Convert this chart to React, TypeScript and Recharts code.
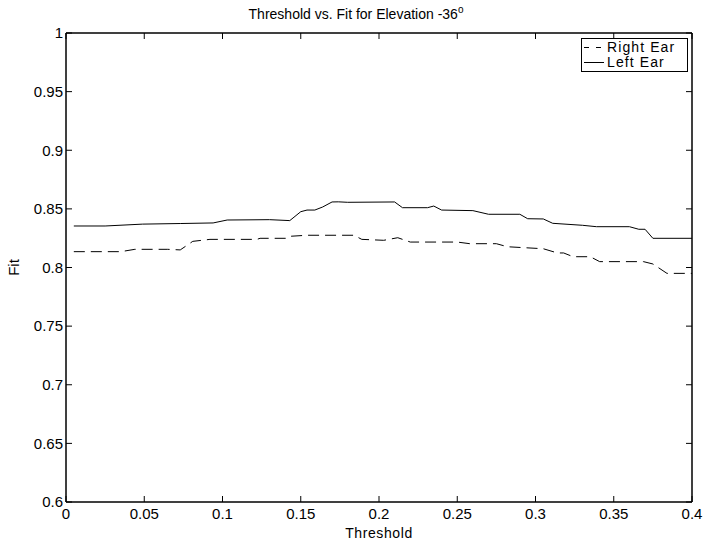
import { LineChart, Line, XAxis, YAxis, ReferenceArea } from 'recharts'

const rightThreshold = [0.005, 0.035, 0.044, 0.065, 0.073, 0.081, 0.092, 0.122, 0.124, 0.141, 0.143, 0.154, 0.184, 0.189, 0.203, 0.212, 0.22, 0.25, 0.258, 0.275, 0.282, 0.305, 0.314, 0.318, 0.324, 0.335, 0.341, 0.369, 0.375, 0.384, 0.4]
const rightFit = [0.8135, 0.8135, 0.8155, 0.8155, 0.815, 0.8223, 0.824, 0.824, 0.8249, 0.8249, 0.8266, 0.8275, 0.8275, 0.824, 0.8232, 0.8254, 0.8217, 0.8217, 0.8203, 0.8203, 0.8177, 0.816, 0.8124, 0.8124, 0.8092, 0.8092, 0.805, 0.805, 0.803, 0.795, 0.795]

const leftThreshold = [0.005, 0.025, 0.049, 0.073, 0.094, 0.103, 0.13, 0.143, 0.15, 0.154, 0.159, 0.164, 0.17, 0.174, 0.18, 0.21, 0.215, 0.231, 0.235, 0.24, 0.26, 0.27, 0.29, 0.295, 0.305, 0.311, 0.33, 0.339, 0.36, 0.366, 0.37, 0.375, 0.4]
const leftFit = [0.8354, 0.8354, 0.837, 0.8375, 0.838, 0.8405, 0.8408, 0.84, 0.8476, 0.849, 0.849, 0.8516, 0.8559, 0.856, 0.8556, 0.8559, 0.851, 0.851, 0.8524, 0.849, 0.8485, 0.8454, 0.8454, 0.8416, 0.8414, 0.8377, 0.836, 0.8348, 0.8348, 0.8326, 0.8326, 0.8249, 0.8249]

const xTicks = [0, 0.05, 0.1, 0.15, 0.2, 0.25, 0.3, 0.35, 0.4]
const yTicks = [0.6, 0.65, 0.7, 0.75, 0.8, 0.85, 0.9, 0.95, 1]

const rightData = rightThreshold.map((t, i) => ({ t, fit: rightFit[i] }))
const leftData = leftThreshold.map((t, i) => ({ t, fit: leftFit[i] }))

const FONT = 'Arial, "Liberation Sans", Helvetica, sans-serif'
const fmt = (v: number) => String(parseFloat(v.toFixed(2)))
const tickStyle = { fill: '#000', fontSize: 15, fontFamily: FONT }
const noTick = () => <g />

function LegendBox() {
    const rows = [
        { name: 'Right Ear', dash: '5 7' },
        { name: 'Left Ear', dash: undefined },
    ]
    return (
        <div style={{ position: 'absolute', left: 581, top: 38, border: '1px solid #000', background: '#fff', width: 107, height: 34, boxSizing: 'border-box', fontFamily: FONT, fontSize: 14, color: '#000', paddingTop: 1 }}>
            {rows.map((r) => (
                <div key={r.name} style={{ display: 'flex', alignItems: 'center', height: 15 }}>
                    <svg width={24} height={15} style={{ marginLeft: 1 }}>
                        <line x1={1} y1={7.5} x2={21} y2={7.5} stroke="#000" strokeWidth={1} strokeDasharray={r.dash} />
                    </svg>
                    <span style={{ lineHeight: '15px', letterSpacing: 1.1 }}>{r.name}</span>
                </div>
            ))}
        </div>
    )
}

export default function App() {
    return (
        <div style={{ position: 'relative', width: 703, height: 541, background: '#fff' }}>
            <style>{'body{margin:0}'}</style>
            <div style={{ position: 'absolute', top: 4, left: 43, width: 626, textAlign: 'center', fontFamily: FONT, fontSize: 14, color: '#000' }}>
                Threshold vs. Fit for Elevation -36<sup style={{ fontSize: 10 }}>o</sup>
            </div>
            <LineChart width={703} height={541} margin={{ top: 32, right: 10, bottom: 0, left: 0 }}>
                <XAxis
                    xAxisId="b"
                    dataKey="t"
                    type="number"
                    domain={[0, 0.4]}
                    ticks={xTicks}
                    tickFormatter={fmt}
                    allowDataOverflow
                    height={39}
                    tickSize={-6}
                    tickMargin={12}
                    stroke="#000"
                    tick={tickStyle}
                    label={{ value: 'Threshold', position: 'insideBottom', offset: 3, style: { fill: '#000', fontSize: 14, fontFamily: FONT, letterSpacing: 0.6 } }}
                />
                <XAxis
                    xAxisId="top"
                    orientation="top"
                    dataKey="t"
                    type="number"
                    domain={[0, 0.4]}
                    ticks={xTicks}
                    allowDataOverflow
                    height={1}
                    tickSize={-6}
                    tick={noTick}
                    stroke="#000"
                />
                <YAxis
                    yAxisId="l"
                    type="number"
                    domain={[0.6, 1]}
                    ticks={yTicks}
                    tickFormatter={fmt}
                    allowDataOverflow
                    width={66}
                    tickSize={-6}
                    tickMargin={9}
                    stroke="#000"
                    tick={tickStyle}
                    label={{ value: 'Fit', angle: -90, position: 'insideLeft', offset: 14, style: { textAnchor: 'middle', fill: '#000', fontSize: 15, fontFamily: FONT } }}
                />
                <YAxis
                    yAxisId="r"
                    orientation="right"
                    type="number"
                    domain={[0.6, 1]}
                    ticks={yTicks}
                    allowDataOverflow
                    width={1}
                    tickSize={-6}
                    tick={noTick}
                    stroke="#000"
                />
                <ReferenceArea xAxisId="b" yAxisId="l" x1={0} x2={0.4} y1={0.6} y2={1} fill="none" stroke="#000" strokeWidth={1} ifOverflow="visible" />
                <Line data={leftData} xAxisId="top" yAxisId="r" dataKey="fit" stroke="none" dot={false} legendType="none" isAnimationActive={false} />
                <Line data={rightData} xAxisId="b" yAxisId="l" dataKey="fit" name="Right Ear" stroke="#000" strokeWidth={1} strokeDasharray="11 6" dot={false} isAnimationActive={false} />
                <Line data={leftData} xAxisId="b" yAxisId="l" dataKey="fit" name="Left Ear" stroke="#000" strokeWidth={1} dot={false} isAnimationActive={false} />
            </LineChart>
            <LegendBox />
        </div>
    )
}
